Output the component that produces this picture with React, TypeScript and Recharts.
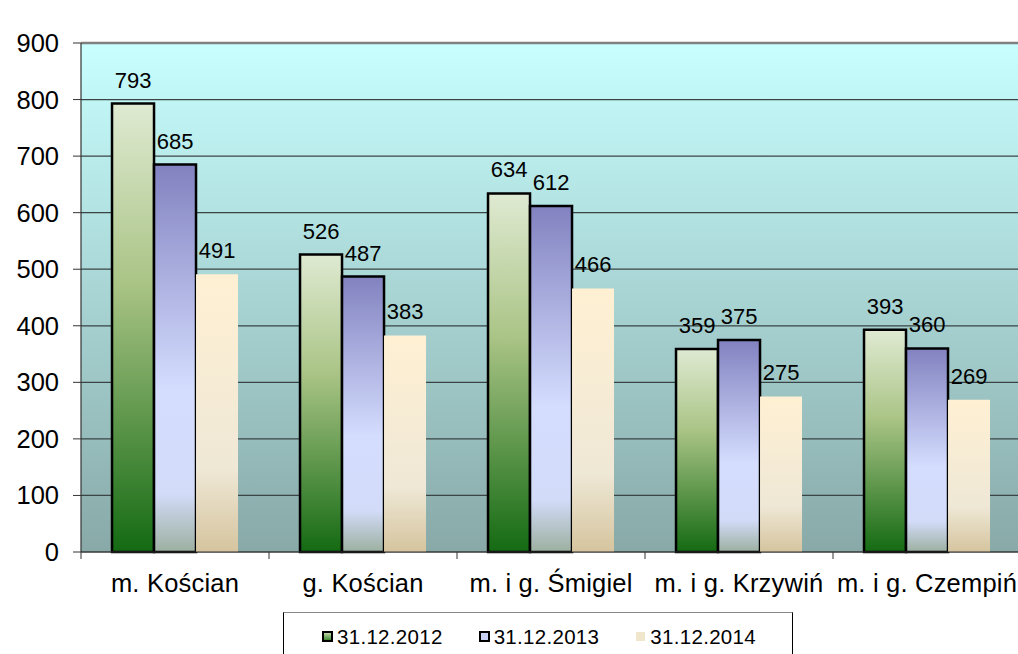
import { BarChart, Bar, XAxis, YAxis, CartesianGrid, LabelList, Legend, ReferenceLine } from 'recharts'

const categories = ['m. Kościan', 'g. Kościan', 'm. i g. Śmigiel', 'm. i g. Krzywiń', 'm. i g. Czempiń']
const v2012 = [793, 526, 634, 359, 393]
const v2013 = [685, 487, 612, 375, 360]
const v2014 = [491, 383, 466, 275, 269]
const yTicks = [0, 100, 200, 300, 400, 500, 600, 700, 800, 900]

const series = [
  { key: 'y2012', name: '31.12.2012', fill: 'url(#gGreen)', stroke: '#000', icon: 'url(#gGreenI)' },
  { key: 'y2013', name: '31.12.2013', fill: 'url(#gBlue)', stroke: '#000', icon: '#c8d0f4' },
  { key: 'y2014', name: '31.12.2014', fill: 'url(#gBeige)', stroke: 'none', icon: '#f0e6cc' },
]

const data = categories.map((c, i) => ({ cat: c, y2012: v2012[i], y2013: v2013[i], y2014: v2014[i] }))

const FONT = '"Liberation Sans", Arial, sans-serif'
const BAND = 188

function XTick(props: any) {
  const { x, y, payload } = props
  return (
    <g>
      <line x1={x - BAND / 2} x2={x - BAND / 2} y1={y - 8} y2={y - 1} stroke="#333" />
      <text x={x} y={y + 32} textAnchor="middle" fontSize={25.5} letterSpacing={0.2} fill="#000" fontFamily={FONT}>
        {payload.value}
      </text>
    </g>
  )
}

function LegendBox() {
  return (
    <div
      style={{
        boxSizing: 'border-box',
        width: 510,
        height: 50,
        border: '1px solid #000',
        borderTopColor: '#888',
        background: '#fff',
        display: 'flex',
        paddingLeft: 38,
        paddingTop: 12,
        fontFamily: FONT,
        fontSize: 20.5,
        letterSpacing: 0.3,
      }}
    >
      {series.map((s) => (
        <div key={s.key} style={{ display: 'flex', alignItems: 'center', width: 159, height: 24 }}>
          <svg width={15} height={12}>
            <defs>
              <linearGradient id="gGreenI" x1="0" y1="0" x2="0" y2="1">
                <stop offset="0%" stopColor="#cfe2b8" />
                <stop offset="100%" stopColor="#2f7f22" />
              </linearGradient>
            </defs>
            <rect
              x={1}
              y={1}
              width={9}
              height={9}
              fill={s.icon}
              stroke={s.stroke === 'none' ? 'none' : '#000'}
              strokeWidth={2}
            />
          </svg>
          <span>{s.name}</span>
        </div>
      ))}
    </div>
  )
}

export default function App() {
  return (
    <div style={{ position: 'absolute', left: 0, top: 0, width: 1018, height: 654, overflow: 'hidden', background: '#fff' }}>
      <BarChart
        width={1021}
        height={654}
        data={data}
        margin={{ top: 43, right: 0, bottom: 0, left: 0 }}
        barCategoryGap="16.5%"
        barGap={0}
      >
        <defs>
          <linearGradient id="bg" x1="0" y1="0" x2="0" y2="1">
            <stop offset="0%" stopColor="#c8ffff" />
            <stop offset="100%" stopColor="#88a9a8" />
          </linearGradient>
          <linearGradient id="gGreen" x1="0" y1="0" x2="0" y2="1">
            <stop offset="0%" stopColor="#dfead2" />
            <stop offset="40%" stopColor="#aac486" />
            <stop offset="100%" stopColor="#146a13" />
          </linearGradient>
          <linearGradient id="gBlue" x1="0" y1="0" x2="0" y2="1">
            <stop offset="0%" stopColor="#8282c0" />
            <stop offset="58%" stopColor="#d4ddfe" />
            <stop offset="85%" stopColor="#d2dbf8" />
            <stop offset="100%" stopColor="#9cb0a0" />
          </linearGradient>
          <linearGradient id="gBeige" x1="0" y1="0" x2="0" y2="1">
            <stop offset="0%" stopColor="#fff0d3" />
            <stop offset="70%" stopColor="#efe8d6" />
            <stop offset="100%" stopColor="#d5c49e" />
          </linearGradient>
        </defs>
        <CartesianGrid vertical={false} stroke="#3a4444" strokeWidth={1.2} fill="url(#bg)" />
        <XAxis
          dataKey="cat"
          axisLine={{ stroke: '#333', strokeWidth: 1.2 }}
          tickLine={false}
          tick={<XTick />}
          height={52}
          interval={0}
        />
        <YAxis
          domain={[0, 900]}
          ticks={yTicks}
          width={81}
          tickSize={8}
          tickMargin={14}
          axisLine={{ stroke: '#333', strokeWidth: 1.2 }}
          tickLine={{ stroke: '#333' }}
          tick={{ fontSize: 25.5, fill: '#000', fontFamily: FONT }}
        />
        <ReferenceLine y={900} stroke="#808080" strokeWidth={2.5} />
        {series.map((s) => (
          <Bar
            key={s.key}
            dataKey={s.key}
            name={s.name}
            fill={s.fill}
            stroke={s.stroke}
            strokeWidth={2.5}
            isAnimationActive={false}
          >
            <LabelList
              dataKey={s.key}
              position="top"
              offset={16}
              fontSize={22}
              fill="#000"
              fontFamily={FONT}
            />
          </Bar>
        ))}
        <Legend
          content={<LegendBox />}
          wrapperStyle={{ position: 'absolute', left: 283, top: 612, width: 510, height: 50 }}
        />
      </BarChart>
    </div>
  )
}
